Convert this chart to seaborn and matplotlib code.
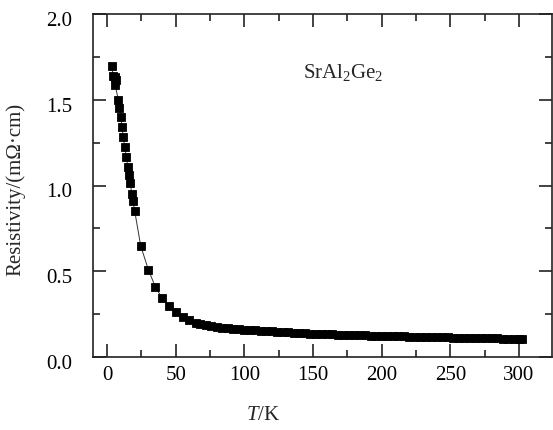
import matplotlib
matplotlib.use("Agg")
import matplotlib.pyplot as plt
import matplotlib.transforms as mtransforms
import seaborn as sns
import pandas as pd
from matplotlib.ticker import MultipleLocator

# ---- data ----
temperature_low = [3.4, 4.6, 5.8, 6.3, 6.0, 8.2, 9.0, 10.0, 10.9, 11.9, 12.9, 14.1,
                   15.1, 15.8, 17.0, 18.0, 18.9, 20.1, 24.5, 30.1, 35.2, 40.1,
                   44.9, 50.3, 55.1, 60.0, 64.8]
resistivity_low = [1.694, 1.640, 1.634, 1.615, 1.585, 1.500, 1.450, 1.400, 1.343,
                   1.280, 1.226, 1.164, 1.109, 1.064, 1.013, 0.953, 0.910, 0.854,
                   0.649, 0.509, 0.409, 0.343, 0.296, 0.261, 0.236, 0.216, 0.201]
temperature_high = [68, 72, 76, 80, 84, 88, 92, 96, 100, 104, 108, 112, 116, 120,
                    124, 128, 132, 136, 140, 144, 148, 152, 156, 160, 164, 168, 172,
                    176, 180, 184, 188, 192, 196, 200, 204, 208, 212, 216, 220, 224,
                    228, 232, 236, 240, 244, 248, 252, 256, 260, 264, 268, 272, 276,
                    280, 284, 288, 292, 296, 300, 302]
resistivity_high = [0.193, 0.186, 0.180, 0.176, 0.172, 0.168, 0.165, 0.162, 0.160,
                    0.158, 0.156, 0.154, 0.152, 0.150, 0.148, 0.146, 0.144, 0.142,
                    0.140, 0.138, 0.137, 0.135, 0.134, 0.133, 0.132, 0.131, 0.130,
                    0.129, 0.128, 0.127, 0.126, 0.125, 0.124, 0.123, 0.122, 0.121,
                    0.121, 0.120, 0.119, 0.118, 0.118, 0.117, 0.116, 0.115, 0.115,
                    0.114, 0.113, 0.113, 0.112, 0.111, 0.111, 0.110, 0.109, 0.109,
                    0.108, 0.107, 0.107, 0.106, 0.105, 0.105]
x_ticks = [0, 50, 100, 150, 200, 250, 300]
y_ticks = [0.0, 0.5, 1.0, 1.5, 2.0]
x_label = "$T$/K"
y_label = "Resistivity/(mΩ·cm)"
compound = "SrAl$_2$Ge$_2$"

df = pd.DataFrame({
    "T": temperature_low + temperature_high,
    "rho": resistivity_low + resistivity_high,
})

sns.set_style("ticks")
plt.rcParams["font.family"] = ["Liberation Serif", "DejaVu Serif"]
plt.rcParams["mathtext.fontset"] = "custom"
plt.rcParams["mathtext.rm"] = "Liberation Serif"
plt.rcParams["mathtext.it"] = "Liberation Serif:italic"
plt.rcParams["mathtext.bf"] = "Liberation Serif:bold"

fig = plt.figure(figsize=(5.53, 4.31), dpi=100)
ax = fig.add_axes([93 / 553, 1 - 358 / 431, (552 - 93) / 553, (358 - 15) / 431])

sns.lineplot(data=df, x="T", y="rho", ax=ax, sort=False, estimator=None,
             color="#333333", linewidth=0.7, marker="s", markersize=5.8,
             markerfacecolor="black", markeredgecolor="black", markeredgewidth=0.6)

ax.set_xlim(-10.2, 324)
ax.set_ylim(0, 2.0)
ax.set_xticks(x_ticks)
ax.set_yticks(y_ticks)
ax.set_yticklabels([f"{v:.1f}" for v in y_ticks])
ax.xaxis.set_minor_locator(MultipleLocator(25))
ax.yaxis.set_minor_locator(MultipleLocator(0.25))

ax.tick_params(which="both", direction="in", top=True, right=True, width=1.2,
               color="#222222", labelsize=15, labelcolor="black")
ax.tick_params(which="major", length=9.5)
ax.tick_params(which="minor", length=5)
ax.tick_params(axis="y", which="major", pad=15)
ax.tick_params(axis="x", which="major", pad=6)
for s in ax.spines.values():
    s.set_linewidth(1.2)
    s.set_color("#222222")

# reference y tick labels sit a few pixels below their ticks
shift = mtransforms.ScaledTranslation(0, -4 / 100, fig.dpi_scale_trans)
for lab in ax.get_yticklabels():
    lab.set_transform(lab.get_transform() + shift)

ax.set_xlabel(x_label, fontsize=15)
ax.set_ylabel(y_label, fontsize=15)
ax.xaxis.set_label_coords(0.37, -0.14)
ax.yaxis.set_label_coords(-0.148, 0.49)

ax.text(143, 1.667, compound, fontsize=15, ha="left", va="center")

fig.savefig("out.png", dpi=100)
